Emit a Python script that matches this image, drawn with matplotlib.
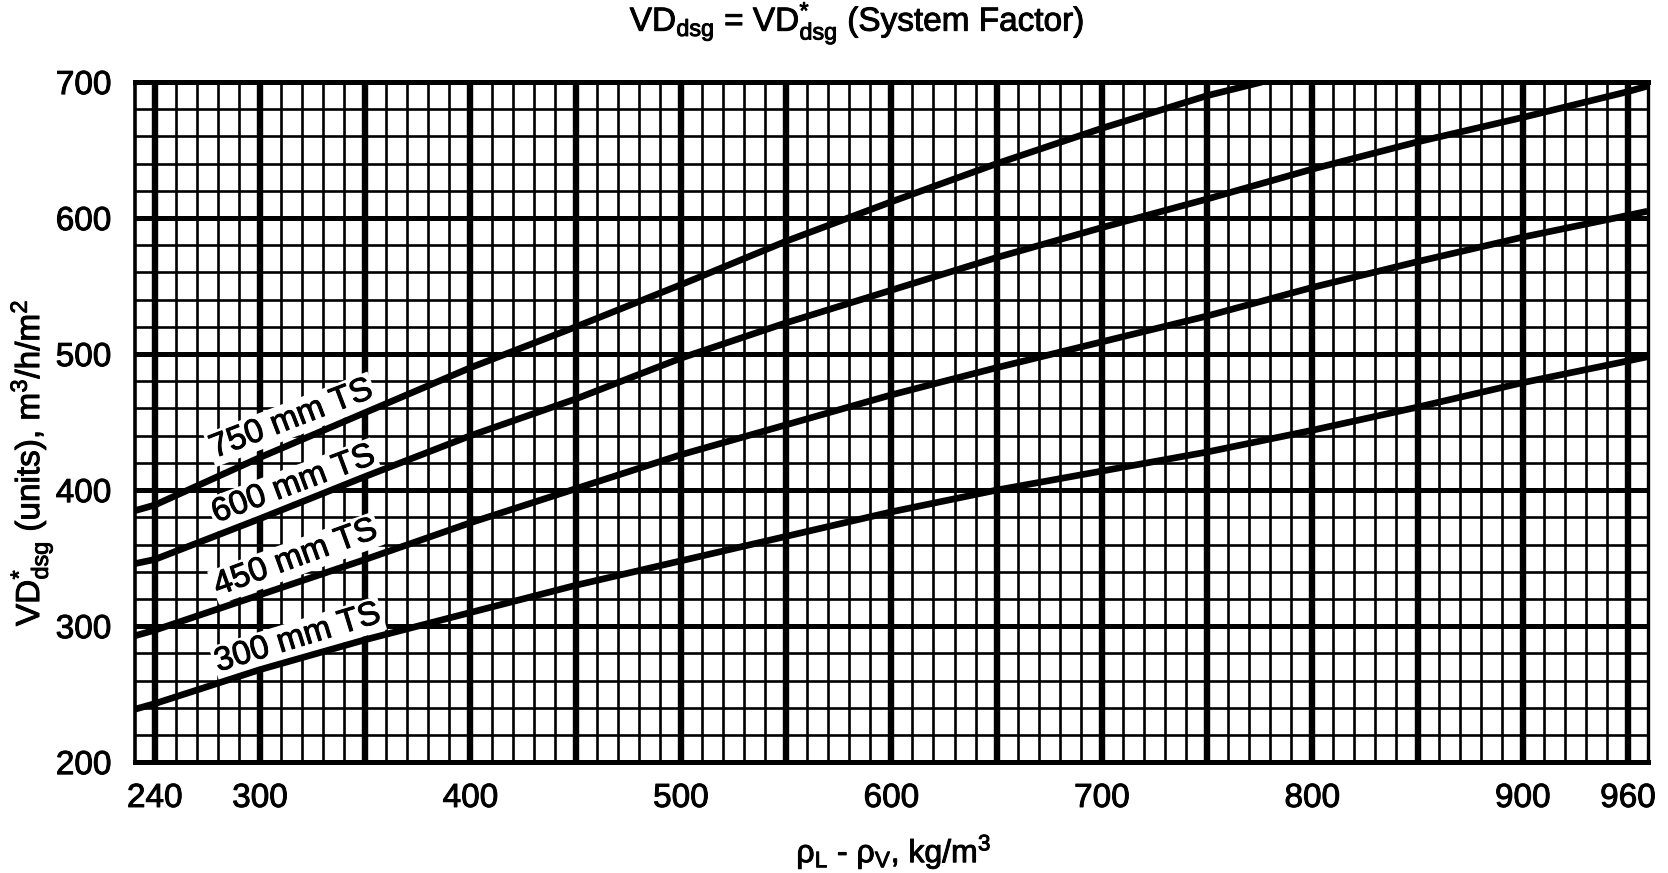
import numpy as np
import matplotlib
matplotlib.use("Agg")
import matplotlib.pyplot as plt
import matplotlib.patheffects as pe
from matplotlib.ticker import FixedLocator, FixedFormatter, NullFormatter

plt.rcParams['font.family'] = ['Liberation Sans', 'DejaVu Sans']
plt.rcParams['mathtext.fontset'] = 'custom'
plt.rcParams['mathtext.rm'] = 'Liberation Sans'
plt.rcParams['mathtext.it'] = 'Liberation Sans:italic'
plt.rcParams['mathtext.bf'] = 'Liberation Sans:bold'

# Density difference (kg/m3) and design vapour load (m3/h/m2) for each tray spacing
x_750 = [229, 240, 300, 350, 400, 450, 500, 550, 600, 650, 700, 750, 776]
vd_750 = [385, 389, 424, 457, 490, 520, 551, 583, 612, 640, 666, 690, 700]

x_long = [229, 240, 300, 350, 400, 450, 500, 550, 600, 650, 700, 750, 800, 850, 900, 960, 971]
vd_600 = [346, 349, 379, 410, 440, 467, 497, 523, 547, 571, 593, 614, 636, 656, 674, 693, 697]
vd_450 = [293, 297, 323, 349, 376, 401, 426, 448, 470, 490, 509, 528, 549, 568, 586, 602, 605]
vd_300 = [239, 243, 268, 290, 310, 330, 348, 366, 384, 400, 414, 428, 444, 461, 479, 495, 498]

curve_labels = ["750 mm TS", "600 mm TS", "450 mm TS", "300 mm TS"]
label_x = [315, 316, 317, 318]
label_y = [452, 404, 350, 291]
label_rot = [21, 20.5, 20, 17]

x_labelled = [240, 300, 400, 500, 600, 700, 800, 900, 960]
y_ticks = [200, 300, 400, 500, 600, 700]


# Chart paper scale: the end panels (240-300 and 900-960) are squeezed to the
# width of an ordinary 50-unit panel.
_xk = [0.0, 300.0, 900.0, 2000.0]
_uk = [50.0, 300.0, 900.0, 900.0 + 1100.0 * 50.0 / 60.0]


def fwd(x):
    return np.interp(np.asarray(x, dtype=float), _xk, _uk)


def inv(u):
    return np.interp(np.asarray(u, dtype=float), _uk, _xk)


# slightly heavier strokes on the lettering, as on the printed chart
ink = [pe.withStroke(linewidth=0.7, foreground='black')]

fig = plt.figure(figsize=(16.68, 8.73), dpi=100)
ax = fig.add_axes([0.0809, 0.127, 0.907, 0.779])
ax.set_xscale('function', functions=(fwd, inv))
ax.set_xlim(228.7, 971.3)
ax.set_ylim(200, 700)

# grid positions
major_x = [240] + list(range(300, 901, 50)) + [960]
minor_x = [252, 264, 276, 288] + [v for v in range(310, 900, 10) if v % 50] + [912, 924, 936, 948]
ax.xaxis.set_major_locator(FixedLocator(major_x))
ax.xaxis.set_minor_locator(FixedLocator(minor_x))
ax.xaxis.set_major_formatter(FixedFormatter([str(v) if v in x_labelled else "" for v in major_x]))
ax.xaxis.set_minor_formatter(NullFormatter())
ax.yaxis.set_major_locator(FixedLocator(y_ticks))
ax.yaxis.set_minor_locator(FixedLocator([v for v in range(220, 700, 20) if v % 100]))

ax.xaxis.grid(True, which='major', color='black', lw=4.6)
ax.xaxis.grid(True, which='minor', color='black', lw=1.9)
ax.yaxis.grid(True, which='major', color='black', lw=3.6)
ax.yaxis.grid(True, which='minor', color='black', lw=1.9)
ax.set_axisbelow(True)

ax.tick_params(which='both', length=0)
ax.tick_params(axis='x', pad=15, labelsize=24)
ax.tick_params(axis='y', pad=17, labelsize=24)
for lbl in ax.get_xticklabels() + ax.get_yticklabels():
    lbl.set_path_effects(ink)

for side, lw in (('top', 3.6), ('bottom', 3.6), ('left', 2.6), ('right', 2.4)):
    ax.spines[side].set_linewidth(lw)
    ax.spines[side].set_color('black')

for xs, ys in ((x_750, vd_750), (x_long, vd_600), (x_long, vd_450), (x_long, vd_300)):
    ax.plot(xs, ys, color='black', lw=4.8, solid_capstyle='butt', zorder=4)

for txt, lx, ly, rot in zip(curve_labels, label_x, label_y, label_rot):
    ax.text(lx, ly, txt, rotation=rot, rotation_mode='anchor', ha='center', va='center',
            fontsize=24, color='black', zorder=3, path_effects=ink,
            bbox=dict(boxstyle='square,pad=0.06', facecolor='white', edgecolor='none'))

fig.text(0.514, 0.973, r"VD$_{\rm dsg}$ = VD$^{*}_{\rm dsg}$ (System Factor)",
         ha='center', va='center', fontsize=24, path_effects=ink)
fig.text(0.536, 0.024, r"ρ$_{\rm L}$ - ρ$_{\rm V}$, kg/m$^{3}$",
         ha='center', va='center', fontsize=23, path_effects=ink)
fig.text(0.019, 0.47, r"VD$^{*}_{\rm dsg}$ (units), m$^{3}$/h/m$^{2}$",
         ha='center', va='center', rotation=90, fontsize=24, path_effects=ink)

fig.savefig("out.png", dpi=100, facecolor='white')
